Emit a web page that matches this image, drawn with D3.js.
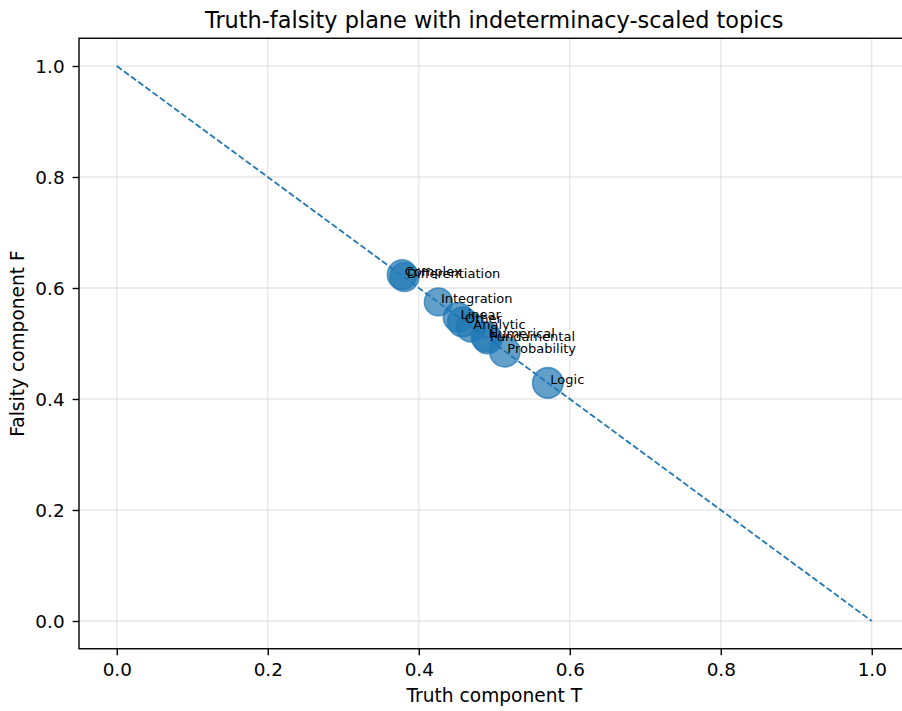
<!DOCTYPE html>
<html>
<head>
<meta charset="utf-8">
<script src="https://cdn.jsdelivr.net/npm/d3@7"></script>
<style>
  body { margin: 0; background: #fff; }
  svg { font-family: "DejaVu Sans", sans-serif; }
  .tick line { stroke: #000; stroke-width: 1.4; }
  .grid line { stroke: #b0b0b0; stroke-opacity: 0.3; stroke-width: 1.4; }
</style>
</head>
<body>
<div id="chart"></div>
<script>
// topics, truth / falsity components and indeterminacy (marker size)
var topics = ["Complex", "Differentiation", "Integration", "Linear", "Other",
              "Analytic", "Numerical", "Fundamental", "Probability", "Logic"];
var truthT = [0.378, 0.381, 0.426, 0.452, 0.458, 0.469, 0.489, 0.491, 0.514, 0.571];
var falsityF = [0.624, 0.620, 0.575, 0.547, 0.539, 0.529, 0.512, 0.508, 0.485, 0.429];
var indeterminacyI = [0.45, 0.43, 0.40, 0.44, 0.46, 0.43, 0.45, 0.44, 0.47, 0.48];
var tickValues = [0.0, 0.2, 0.4, 0.6, 0.8, 1.0];

var width = 902
 ,  height = 711
 ,  marginLeft = 79
 ,  marginTop = 38.25
 ,  plotW = 830.5
 ,  plotH = 610.5;

var data = topics.map(function(name, i) {
  return {name: name, T: truthT[i], F: falsityF[i], I: indeterminacyI[i]};
});

var x = d3.scaleLinear().domain([-0.05, 1.05]).range([marginLeft, marginLeft + plotW]);
var y = d3.scaleLinear().domain([-0.05, 1.05]).range([marginTop + plotH, marginTop]);
var r = d3.scaleSqrt().domain([0, 1]).range([0, 22]);

var svg = d3.select("#chart").append("svg")
    .attr("width", width)
    .attr("height", height);

// grid
var grid = svg.append("g").attr("class", "grid");
grid.selectAll("line.gx").data(tickValues).enter().append("line")
    .attr("class", "gx")
    .attr("x1", function(d) { return x(d); })
    .attr("x2", function(d) { return x(d); })
    .attr("y1", marginTop).attr("y2", marginTop + plotH);
grid.selectAll("line.gy").data(tickValues).enter().append("line")
    .attr("class", "gy")
    .attr("x1", marginLeft).attr("x2", marginLeft + plotW)
    .attr("y1", function(d) { return y(d); })
    .attr("y2", function(d) { return y(d); });

// T + F = 1 reference line
svg.append("line")
  .attr("x1", x(0)).attr("y1", y(1))
  .attr("x2", x(1)).attr("y2", y(0))
  .attr("stroke", "#1f77b4")
  .attr("stroke-width", 1.8)
  .attr("stroke-dasharray", "6.2,2.7");

// points
svg.append("g").selectAll("circle").data(data).enter().append("circle")
  .attr("cx", function(d) { return x(d.T); })
  .attr("cy", function(d) { return y(d.F); })
  .attr("r", function(d) { return r(d.I); })
  .attr("fill", "#1f77b4")
  .attr("fill-opacity", 0.7)
  .attr("stroke", "#1f77b4")
  .attr("stroke-opacity", 0.7)
  .attr("stroke-width", 1.6);

// labels
svg.append("g").selectAll("text").data(data).enter().append("text")
  .attr("x", function(d) { return x(d.T) + 2.5; })
  .attr("y", function(d) { return y(d.F) + 1.5; })
  .style("font-size", "13px")
  .attr("fill", "#000")
  .text(function(d) { return d.name; });

// axes
var xAxis = svg.append("g")
  .attr("transform", "translate(0," + (marginTop + plotH) + ")")
  .call(d3.axisBottom(x).tickValues(tickValues).tickFormat(d3.format(".1f"))
    .tickSize(6.4).tickPadding(8));
var yAxis = svg.append("g")
  .attr("transform", "translate(" + marginLeft + ",0)")
  .call(d3.axisLeft(y).tickValues(tickValues).tickFormat(d3.format(".1f"))
    .tickSize(6.4).tickPadding(8));
xAxis.select(".domain").remove();
yAxis.select(".domain").remove();
xAxis.selectAll("text")
  .style("font-family", "DejaVu Sans").style("font-size", "18.4px").attr("fill", "#000");
yAxis.selectAll("text")
  .style("font-family", "DejaVu Sans").style("font-size", "18.4px").attr("fill", "#000")
  .attr("dy", "0.36em");

// spines
svg.append("rect")
  .attr("x", marginLeft).attr("y", marginTop)
  .attr("width", plotW).attr("height", plotH)
  .attr("fill", "none")
  .attr("stroke", "#000")
  .attr("stroke-width", 1.4);

// titles
svg.append("text")
  .attr("x", marginLeft + plotW / 2).attr("y", 28)
  .attr("text-anchor", "middle")
  .style("font-size", "22.4px")
  .text("Truth-falsity plane with indeterminacy-scaled topics");

svg.append("text")
  .attr("x", marginLeft + plotW / 2).attr("y", 702)
  .attr("text-anchor", "middle")
  .style("font-size", "18.6px")
  .text("Truth component T");

svg.append("text")
  .attr("transform", "translate(24," + (marginTop + plotH / 2) + ") rotate(-90)")
  .attr("text-anchor", "middle")
  .style("font-size", "18.6px")
  .text("Falsity component F");
</script>
</body>
</html>
